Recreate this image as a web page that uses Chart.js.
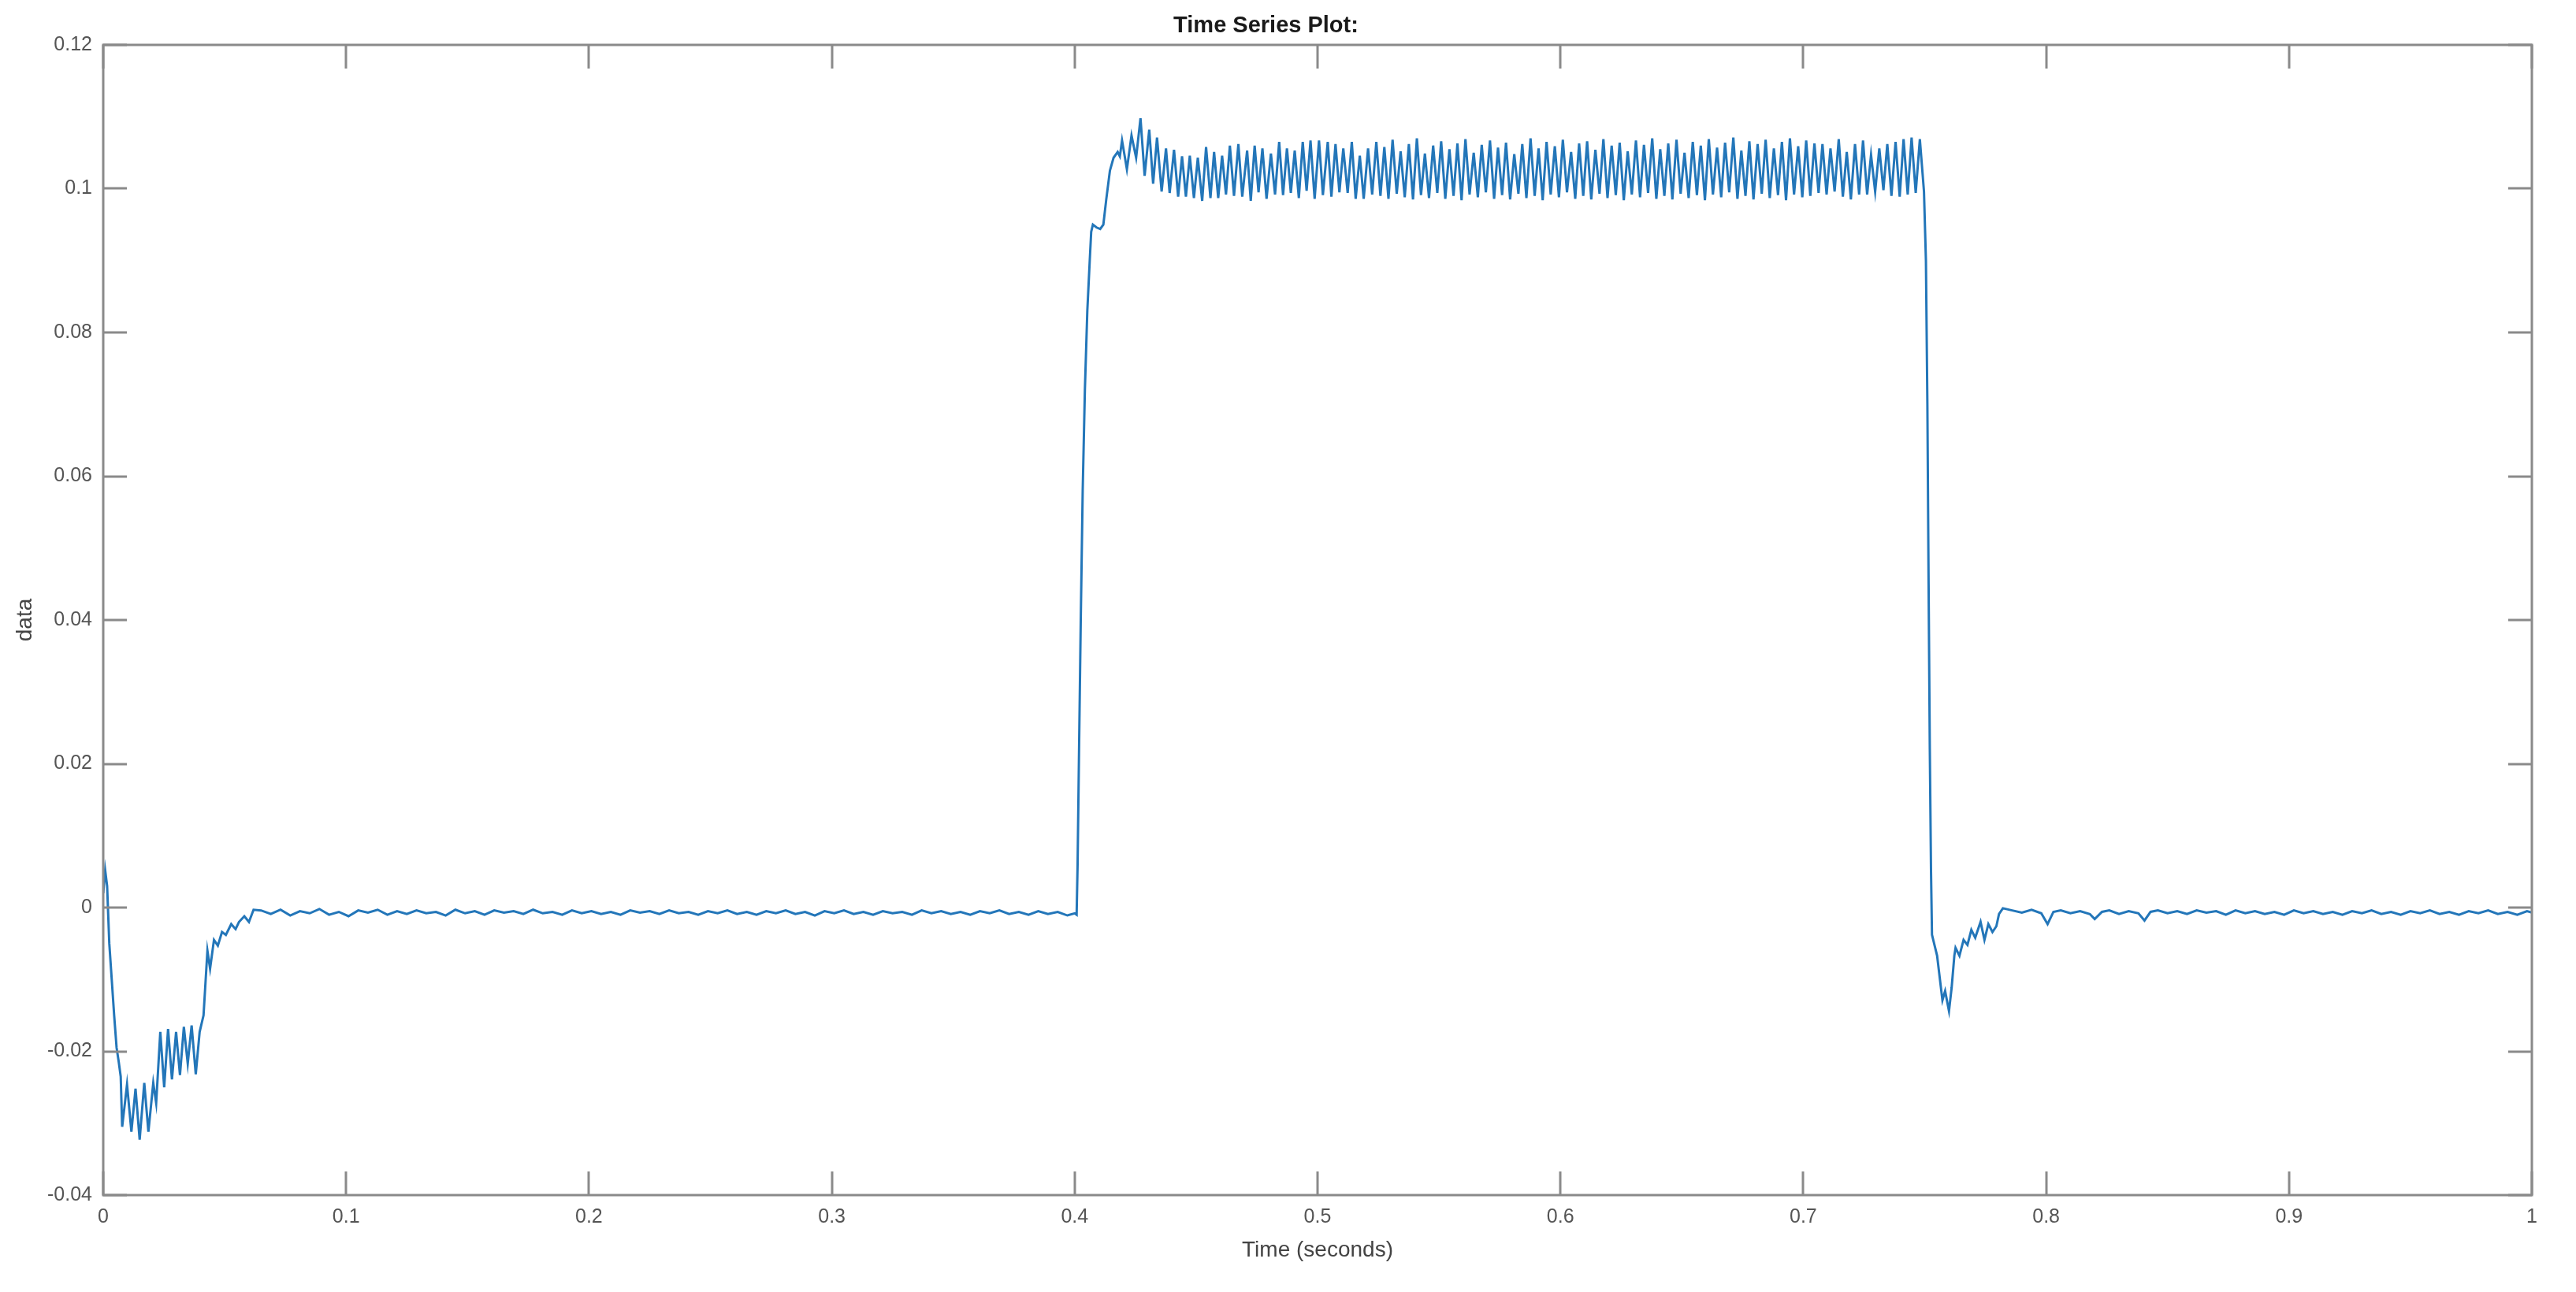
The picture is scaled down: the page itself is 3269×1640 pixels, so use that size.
<!DOCTYPE html>
<html><head><meta charset="utf-8">
<script src="https://cdn.jsdelivr.net/npm/chart.js@4.4.0/dist/chart.umd.min.js"></script>
<style>html,body{margin:0;padding:0;background:#fff;}canvas{display:block;}</style>
</head><body>
<canvas id="c" width="3269" height="1640" style="width:3269px;height:1640px"></canvas>
<script>
const chartTitle = 'Time Series Plot:';
const xAxisLabel = 'Time (seconds)';
const yAxisLabel = 'data';
const xTickValues = [0, 0.1, 0.2, 0.3, 0.4, 0.5, 0.6, 0.7, 0.8, 0.9, 1];
const xTickLabels = ['0', '0.1', '0.2', '0.3', '0.4', '0.5', '0.6', '0.7', '0.8', '0.9', '1'];
const yTickValues = [-0.04, -0.02, 0, 0.02, 0.04, 0.06, 0.08, 0.1, 0.12];
const yTickLabels = ['-0.04', '-0.02', '0', '0.02', '0.04', '0.06', '0.08', '0.1', '0.12'];

// start-up transient
const timeStart = [0.0000,0.0008,0.0016,0.0025,0.0035,0.0045,0.0055,0.0064,0.0072,0.0078,0.0098,0.0116,0.0133,0.0150,0.0169,0.0186,0.0206,0.0218,0.0235,0.0251,0.0267,0.0283,0.0300,0.0316,0.0332,0.0348,0.0364,0.0381,0.0397,0.0413,0.0429,0.0440,0.0456,0.0472,0.0489,0.0505,0.0527,0.0545,0.0559,0.0581,0.0600,0.0619];
const valueStart = [0.0020,0.0052,0.0030,-0.0050,-0.0100,-0.0150,-0.0195,-0.0215,-0.0235,-0.0305,-0.0246,-0.0312,-0.0252,-0.0323,-0.0244,-0.0312,-0.0244,-0.0272,-0.0173,-0.0250,-0.0169,-0.0239,-0.0173,-0.0233,-0.0166,-0.0217,-0.0164,-0.0232,-0.0173,-0.0150,-0.0060,-0.0085,-0.0045,-0.0053,-0.0034,-0.0038,-0.0023,-0.0030,-0.0020,-0.0012,-0.0020,-0.0003];

// first flat section
const timeFlatA = [0.065,0.069,0.073,0.077,0.081,0.085,0.089,0.093,0.097,0.101,0.105,0.109,0.113,0.117,0.121,0.125,0.129,0.133,0.137,0.141,0.145,0.149,0.153,0.157,0.161,0.165,0.169,0.173,0.177,0.181,0.185,0.189,0.193,0.197,0.201,0.205,0.209,0.213,0.217,0.221,0.225,0.229,0.233,0.237,0.241,0.245,0.249,0.253,0.257,0.261,0.265,0.269,0.273,0.277,0.281,0.285,0.289,0.293,0.297,0.301,0.305,0.309,0.313,0.317,0.321,0.325,0.329,0.333,0.337,0.341,0.345,0.349,0.353,0.357,0.361,0.365,0.369,0.373,0.377,0.381,0.385,0.389,0.393,0.397];
const valueFlatA = [-0.0004,-0.0009,-0.0003,-0.0011,-0.0005,-0.0008,-0.0002,-0.0010,-0.0006,-0.0012,-0.0004,-0.0007,-0.0003,-0.0010,-0.0005,-0.0009,-0.0004,-0.0008,-0.0006,-0.0011,-0.0003,-0.0008,-0.0005,-0.0010,-0.0004,-0.0007,-0.0005,-0.0009,-0.0003,-0.0008,-0.0006,-0.0010,-0.0004,-0.0008,-0.0005,-0.0009,-0.0006,-0.0010,-0.0004,-0.0007,-0.0005,-0.0009,-0.0004,-0.0008,-0.0006,-0.0010,-0.0005,-0.0008,-0.0004,-0.0009,-0.0006,-0.0010,-0.0005,-0.0008,-0.0004,-0.0009,-0.0006,-0.0011,-0.0005,-0.0008,-0.0004,-0.0009,-0.0006,-0.0010,-0.0005,-0.0008,-0.0006,-0.0010,-0.0004,-0.0008,-0.0005,-0.0009,-0.0006,-0.0010,-0.0005,-0.0008,-0.0004,-0.0009,-0.0006,-0.0010,-0.0005,-0.0009,-0.0006,-0.0011];

// step up
const timeRise = [0.4000,0.4008,0.4012,0.4018,0.4025,0.4033,0.4042,0.4052,0.4062,0.4068,0.4075,0.4090,0.4105,0.4118,0.4130,0.4145,0.4160,0.4177,0.4186,0.4195,0.4215,0.4234,0.4253];
const valueRise = [-0.0008,-0.0010,0.0060,0.0220,0.0400,0.0580,0.0720,0.0830,0.0900,0.0940,0.0950,0.0946,0.0944,0.0950,0.0985,0.1025,0.1043,0.1051,0.1045,0.1067,0.1027,0.1074,0.1043];

// oscillating high section
const timeHigh = [0.4271,0.4288,0.4307,0.4323,0.4339,0.4358,0.4376,0.4391,0.4409,0.4426,0.4442,0.4458,0.4474,0.4491,0.4507,0.4525,0.4541,0.4559,0.4574,0.4591,0.4607,0.4623,0.4639,0.4656,0.4674,0.4690,0.4710,0.4725,0.4741,0.4757,0.4773,0.4790,0.4808,0.4825,0.4842,0.4858,0.4874,0.4890,0.4906,0.4923,0.4939,0.4955,0.4971,0.4988,0.5006,0.5022,0.5042,0.5057,0.5074,0.5090,0.5106,0.5124,0.5141,0.5157,0.5174,0.5190,0.5208,0.5225,
0.5242,0.5259,0.5275,0.5292,0.5309,0.5326,0.5342,0.5359,0.5376,0.5393,0.5409,0.5426,0.5442,0.5459,0.5476,0.5493,0.5509,0.5526,0.5543,0.5560,0.5576,0.5593,0.5609,0.5626,0.5643,0.5660,0.5676,0.5693,0.5710,0.5727,0.5743,0.5760,0.5776,0.5793,0.5810,0.5827,0.5843,0.5860,0.5877,0.5894,
0.5910,0.5927,0.5943,0.5960,0.5977,0.5994,0.6010,0.6027,0.6044,0.6061,0.6077,0.6094,0.6110,0.6127,0.6144,0.6161,0.6177,0.6194,0.6211,0.6228,0.6244,0.6261,0.6277,0.6294,0.6311,0.6328,0.6344,0.6361,0.6378,0.6395,0.6411,0.6428,0.6444,0.6461,0.6478,0.6495,0.6511,0.6528,0.6545,0.6562,
0.6578,0.6595,0.6611,0.6628,0.6645,0.6662,0.6678,0.6695,0.6712,0.6729,0.6745,0.6762,0.6778,0.6795,0.6812,0.6829,0.6845,0.6862,0.6879,0.6896,0.6912,0.6929,0.6945,0.6962,0.6979,0.6996,0.7012,0.7029,0.7046,0.7063,0.7079,0.7096,0.7112,0.7129,0.7146,0.7163,0.7179,0.7196,0.7213,0.7230,
0.7246,0.7263,0.7279,0.7296,0.7313,0.7330,0.7346,0.7363,0.7380,0.7397,0.7413,0.7430,0.7446,0.7463,0.7480];
const valueHigh = [0.1098,0.1018,0.1082,0.1007,0.1071,0.0996,0.1056,0.0994,0.1054,0.0989,0.1045,0.0989,0.1046,0.0987,0.1043,0.0983,0.1058,0.0987,0.1051,0.0987,0.1046,0.0992,0.1060,0.0990,0.1062,0.0989,0.1053,0.0983,0.1060,0.0995,0.1056,0.0986,0.1049,0.0992,0.1065,0.0991,0.1056,0.0994,0.1053,0.0987,0.1065,0.0997,0.1067,0.0986,0.1067,0.0991,0.1065,0.0989,0.1062,0.0995,0.1056,0.0994,0.1065,0.0986,0.1046,0.0986,0.1056,0.0992,
0.1065,0.0990,0.1058,0.0986,0.1068,0.0993,0.1052,0.0988,0.1062,0.0985,0.1070,0.0991,0.1049,0.0987,0.1060,0.0994,0.1066,0.0986,0.1055,0.0990,0.1063,0.0984,0.1069,0.0992,0.1050,0.0988,0.1061,0.0995,0.1067,0.0986,0.1057,0.0991,0.1064,0.0985,0.1048,0.0993,0.1062,0.0987,0.1070,0.0990,
0.1056,0.0984,0.1065,0.0992,0.1059,0.0988,0.1068,0.0995,0.1051,0.0986,0.1063,0.0990,0.1066,0.0985,0.1054,0.0993,0.1069,0.0987,0.1060,0.0991,0.1064,0.0984,0.1052,0.0992,0.1067,0.0988,0.1061,0.0994,0.1070,0.0986,0.1055,0.0990,0.1063,0.0985,0.1068,0.0993,0.1050,0.0987,0.1065,0.0991,
0.1060,0.0984,0.1069,0.0992,0.1057,0.0988,0.1064,0.0995,0.1071,0.0986,0.1053,0.0990,0.1066,0.0985,0.1062,0.0993,0.1068,0.0987,0.1056,0.0991,0.1065,0.0984,0.1070,0.0992,0.1059,0.0988,0.1067,0.0990,0.1063,0.0994,0.1062,0.0992,0.1056,0.0996,0.1069,0.0989,0.1051,0.0985,0.1062,0.0992,
0.1067,0.0992,0.1047,0.0996,0.1056,0.0998,0.1062,0.0990,0.1065,0.0989,0.1069,0.0992,0.1071,0.0994,0.1069];

// step down and recovery
const timeFall = [0.7497,0.7505,0.7511,0.7516,0.7521,0.7526,0.7530,0.7551,0.7568,0.7573,0.7584,0.7600,0.7611,0.7622,0.7627,0.7643,0.7660,0.7676,0.7692,0.7708,0.7730,0.7746,0.7762,0.7779,0.7795,0.7806,0.7822];
const valueFall = [0.0996,0.0900,0.0700,0.0450,0.0220,0.0050,-0.0038,-0.0067,-0.0115,-0.0129,-0.0116,-0.0144,-0.0111,-0.0067,-0.0056,-0.0067,-0.0045,-0.0052,-0.0031,-0.0042,-0.0020,-0.0045,-0.0023,-0.0034,-0.0026,-0.0009,-0.0001];

// final flat section
const timeFlatB = [0.786,0.790,0.794,0.798,0.8006,0.803,0.806,0.810,0.814,0.818,0.820,0.823,0.826,0.830,0.834,0.838,0.8405,0.843,0.846,0.850,0.854,0.858,0.862,0.866,0.870,0.874,0.878,0.882,0.886,0.890,0.894,0.898,0.902,0.906,0.910,0.914,0.918,0.922,0.926,0.930,0.934,0.938,0.942,0.946,0.950,0.954,0.958,0.962,0.966,0.970,0.974,0.978,0.982,0.986,0.990,0.994,0.998,1.000];
const valueFlatB = [-0.0004,-0.0007,-0.0003,-0.0008,-0.0023,-0.0006,-0.0004,-0.0008,-0.0005,-0.0009,-0.0016,-0.0006,-0.0004,-0.0009,-0.0005,-0.0008,-0.0018,-0.0006,-0.0004,-0.0008,-0.0005,-0.0009,-0.0004,-0.0007,-0.0005,-0.0010,-0.0004,-0.0008,-0.0005,-0.0009,-0.0006,-0.0010,-0.0004,-0.0008,-0.0005,-0.0009,-0.0006,-0.0010,-0.0005,-0.0008,-0.0004,-0.0009,-0.0006,-0.0010,-0.0005,-0.0008,-0.0004,-0.0009,-0.0006,-0.0010,-0.0005,-0.0008,-0.0004,-0.0009,-0.0006,-0.0010,-0.0005,-0.0007];

const timeSeconds = [].concat(timeStart, timeFlatA, timeRise, timeHigh, timeFall, timeFlatB);
const dataValues = [].concat(valueStart, valueFlatA, valueRise, valueHigh, valueFall, valueFlatB);
const points = timeSeconds.map((t, i) => ({ x: t, y: dataValues[i] }));

const FONT = "'Liberation Sans', Arial, Helvetica, sans-serif";
const AXIS_COLOR = '#8a8a8a';

const boxPlugin = {
  id: 'boxTicks',
  afterDatasetsDraw(chart) {
    const { ctx, chartArea: a, scales: { x, y } } = chart;
    const L = 30;
    ctx.save();
    ctx.strokeStyle = AXIS_COLOR;
    ctx.lineWidth = 3;
    ctx.beginPath();
    xTickValues.forEach(v => {
      const px = Math.round(x.getPixelForValue(v));
      ctx.moveTo(px, a.bottom); ctx.lineTo(px, a.bottom - L);
      ctx.moveTo(px, a.top); ctx.lineTo(px, a.top + L);
    });
    yTickValues.forEach(v => {
      const py = Math.round(y.getPixelForValue(v));
      ctx.moveTo(a.left, py); ctx.lineTo(a.left + L, py);
      ctx.moveTo(a.right, py); ctx.lineTo(a.right - L, py);
    });
    ctx.stroke();
    ctx.strokeRect(a.left, a.top, a.right - a.left, a.bottom - a.top);
    ctx.restore();
  }
};

new Chart(document.getElementById('c'), {
  type: 'line',
  data: {
    datasets: [{
      data: points,
      borderColor: 'rgb(35,118,185)',
      borderWidth: 3,
      pointRadius: 0,
      tension: 0,
      fill: false
    }]
  },
  options: {
    responsive: false,
    animation: false,
    devicePixelRatio: 1,
    events: [],
    parsing: false,
    layout: { padding: { left: 0, right: 56, top: 0, bottom: 0 } },
    plugins: {
      legend: { display: false },
      tooltip: { enabled: false },
      title: {
        display: true,
        text: chartTitle,
        color: '#1a1a1a',
        font: { family: FONT, size: 29, weight: 'bold' },
        padding: { top: 16, bottom: 6.2 }
      }
    },
    scales: {
      x: {
        type: 'linear',
        min: 0, max: 1,
        afterBuildTicks: s => { s.ticks = xTickValues.map(v => ({ value: v })); },
        afterFit: s => { s.height = 123; },
        ticks: {
          callback: (v, i) => xTickLabels[i],
          color: '#555',
          font: { family: FONT, size: 25 },
          padding: 13,
          maxRotation: 0,
          autoSkip: false
        },
        grid: { display: false, drawTicks: false },
        border: { display: false },
        title: {
          display: true,
          text: xAxisLabel,
          color: '#444',
          font: { family: FONT, size: 28 },
          padding: { top: 0, bottom: 36 }
        }
      },
      y: {
        type: 'linear',
        min: -0.04, max: 0.12,
        afterBuildTicks: s => { s.ticks = yTickValues.map(v => ({ value: v })); },
        afterFit: s => { s.width = 131; },
        ticks: {
          callback: (v, i) => yTickLabels[i],
          color: '#555',
          font: { family: FONT, size: 25 },
          padding: 14,
          autoSkip: false
        },
        grid: { display: false, drawTicks: false },
        border: { display: false },
        title: {
          display: true,
          text: yAxisLabel,
          color: '#444',
          font: { family: FONT, size: 28 },
          padding: { top: 15, bottom: 0 }
        }
      }
    }
  },
  plugins: [boxPlugin]
});
</script>
</body></html>
